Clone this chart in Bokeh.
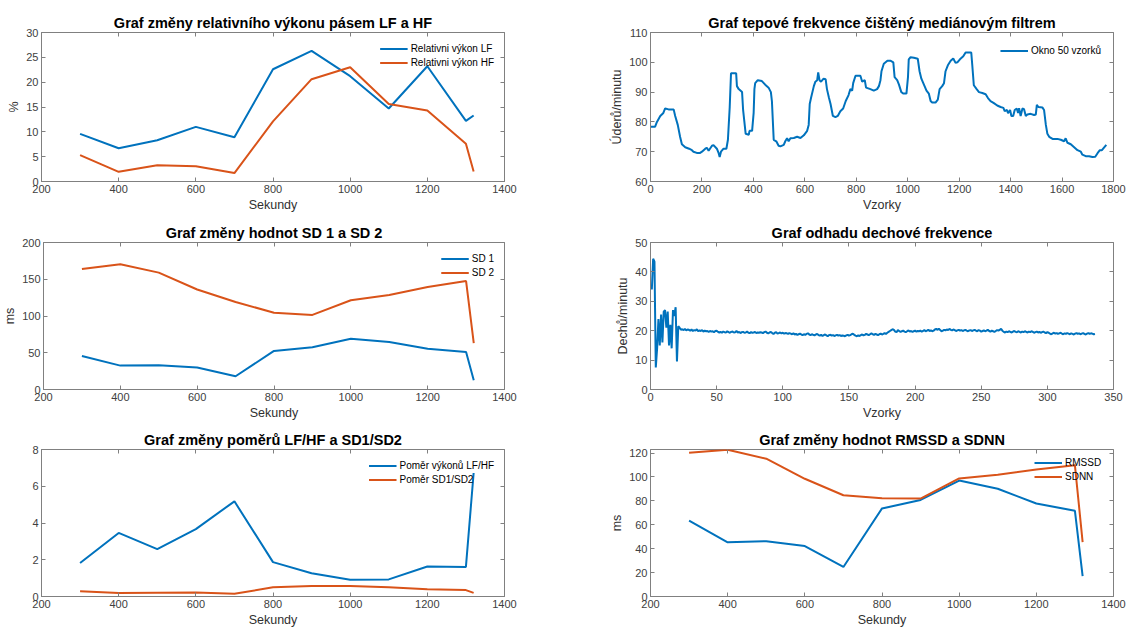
from bokeh.plotting import figure
from bokeh.layouts import column, row
from bokeh.models import LinearAxis, FixedTicker, Range1d
from bokeh.embed import file_html
from bokeh.resources import INLINE

BLUE = "#0072BD"
ORANGE = "#D95319"
FONT = "Liberation Sans"
AXC = "#808080"
TICKC = "#404040"
LABC = "#303030"

# ---------------- data ----------------
seconds = [300, 400, 500, 600, 700, 800, 900, 1000, 1100, 1200, 1300, 1320]

rel_lf = [9.6, 6.7, 8.3, 11.0, 8.9, 22.6, 26.3, 21.2, 14.7, 23.2, 12.2, 13.3]
rel_hf = [5.3, 1.95, 3.25, 3.05, 1.7, 12.1, 20.6, 23.0, 15.6, 14.3, 7.6, 2.0]

sd1 = [45.5, 32.5, 33.0, 30.0, 18.0, 52.5, 57.5, 69.0, 64.5, 55.5, 51.0, 12.5]
sd2 = [164.0, 170.5, 159.0, 136.0, 119.0, 104.5, 101.5, 121.5, 128.5, 139.5, 147.5, 63.0]

ratio_lfhf = [1.82, 3.46, 2.58, 3.67, 5.18, 1.87, 1.27, 0.91, 0.93, 1.63, 1.61, 6.72]
ratio_sd = [0.28, 0.19, 0.21, 0.22, 0.15, 0.50, 0.57, 0.57, 0.50, 0.40, 0.35, 0.20]

rmssd = [63.5, 45.3, 46.3, 42.2, 24.7, 73.7, 80.8, 97.0, 90.2, 77.8, 71.7, 17.0]
sdnn = [120.3, 122.8, 115.3, 98.5, 84.7, 82.2, 81.9, 98.8, 101.8, 106.2, 109.8, 45.5]

hr_sample = [1, 18, 25, 38, 50, 57, 70, 90, 96, 106, 115, 122, 135, 150, 161, 167, 180, 193, 200,
             213, 219, 226, 239, 245, 258, 265, 269, 274, 284, 295, 301, 308, 313, 333, 336, 343,
             356, 360, 365, 370, 382, 385, 395, 401, 404, 407, 417, 433, 446, 459, 468, 472, 479,
             489, 498, 505, 518, 524, 531, 537, 544, 557, 570, 583, 596, 609, 615, 619, 624, 635,
             641, 648, 652, 657, 663, 673, 681, 686, 694, 700, 709, 719, 728, 738, 749, 759, 770,
             777, 784, 788, 797, 816, 823, 833, 838, 855, 868, 881, 888, 894, 898, 907, 921, 934,
             944, 949, 959, 966, 975, 982, 995, 1001, 1004, 1011, 1024, 1039, 1046, 1053, 1063,
             1073, 1082, 1089, 1095, 1108, 1117, 1124, 1134, 1141, 1147, 1156, 1167, 1177, 1186,
             1193, 1203, 1216, 1225, 1247, 1251, 1257, 1268, 1277, 1290, 1303, 1312, 1322, 1335,
             1348, 1361, 1372, 1377, 1386, 1390, 1398, 1403, 1410, 1416, 1424, 1429, 1433, 1439,
             1446, 1452, 1459, 1465, 1478, 1491, 1498, 1502, 1508, 1524, 1530, 1537, 1543, 1550,
             1563, 1582, 1595, 1608, 1614, 1621, 1634, 1647, 1660, 1673, 1679, 1692, 1705, 1718,
             1729, 1738, 1747, 1755, 1772]
hr_bpm = [78.4, 78.4, 80, 82, 83, 84.5, 84.2, 84.2, 82, 79, 75, 72.5, 71.5, 71, 70.5, 70, 69.6, 69.6, 70,
          71, 71.3, 70.3, 72, 72.2, 71, 69.5, 68.2, 70, 71, 71, 74, 85, 96.3, 96.3, 92, 91,
          90, 84, 80, 76, 75.7, 77, 77, 83, 91, 93, 94, 93.7, 92.5, 91.5, 90, 87, 74,
          73.5, 72, 71.8, 72.3, 73.5, 74.5, 73.5, 74.5, 74.6, 75, 74.6, 75.5, 77, 79, 86, 88, 92,
          93.5, 94, 96.6, 94, 93.5, 94.5, 94.3, 91, 88, 86, 82, 81.6, 82, 83.6, 84.5, 87, 89,
          91, 90.5, 93, 95.5, 95.5, 93.5, 94, 91.5, 91, 90.5, 91, 92, 94, 97, 99.5, 100.5, 100.5,
          100, 95, 94, 92.5, 90, 89.5, 89.5, 95, 101, 101.7, 101.5, 101.2, 97, 94.5, 92.5,
          90.5, 89.5, 87, 86.5, 86.5, 87.5, 91, 92, 93, 97, 99, 100.5, 101.3, 99.8,
          100, 101, 102, 103.3, 103.3, 99, 92.3, 91, 90, 89.7, 89.3, 88, 87, 86.3,
          85.5, 85, 84.7, 83.6, 84, 82.9, 84, 82, 82, 84, 84.5, 83, 84.6, 82,
          84.5, 84.3, 82, 82.5, 82.7, 82.3, 82.5, 85.7, 85, 84.8, 84, 79, 76, 75,
          74.3, 74.3, 74, 73.5, 74.5, 73, 72.5, 71.5, 70.5, 70, 69, 68.5, 68.5, 68.2,
          68.3, 69.5, 70.5, 70.5, 72.3]

resp_rate = [
    34, 44.5, 43.5, 7.5, 14, 24, 15, 25.5, 16, 26.5, 27, 21, 26.5, 15, 22, 14, 27, 25, 28, 9.5, 21.5, 21, 20.3,
    20.5, 20.2, 20.6, 20.1, 20.4, 20.3, 20.0, 20.4, 19.9, 20.2, 20.0, 20.5, 19.8, 20.1, 19.9, 20.2, 19.7, 20.0, 19.8, 19.9,
    19.6, 19.9, 19.7, 19.8, 19.5, 19.9, 20.0, 19.6, 19.4, 19.6, 19.3, 19.7, 19.5, 19.4, 19.8, 19.5, 19.3, 19.6, 19.7, 19.4,
    19.5, 19.9, 19.4, 19.6, 19.2, 19.5, 19.6, 19.3, 19.4, 19.7, 19.3, 19.2, 19.5, 19.3, 19.4, 19.6, 19.2, 19.4, 19.3, 19.5,
    19.4, 19.2, 19.5, 19.7, 19.3, 19.1, 19.4, 19.6, 19.2, 18.9, 19.3, 19.5, 19.0, 19.2, 19.4, 19.1, 19.3, 19.0, 19.2, 19.1,
    18.9, 19.2, 19.0, 18.8, 19.1, 18.7, 18.9, 18.6, 18.8, 19.0, 18.7, 18.5, 18.8, 18.6, 18.9, 19.1, 18.7, 18.5, 18.8, 18.6,
    18.4, 18.7, 18.9, 18.5, 18.3, 18.6, 18.2, 18.5, 18.7, 18.4, 18.1, 18.5, 18.6, 18.3, 18.5, 18.2, 18.4, 18.6, 18.3, 18.5,
    18.2, 18.4, 18.3, 18.1, 18.4, 18.6, 18.3, 18.5, 18.8, 19.0, 18.6, 18.3, 18.1, 18.4, 18.2, 18.5, 18.7, 18.4, 18.6, 18.9,
    18.7, 18.5, 18.8, 19.1, 18.8, 18.6, 18.9, 18.7, 18.5, 18.8, 19.0, 18.7, 18.9, 19.2, 18.9, 19.3, 19.6, 19.9, 20.2, 20.5,
    20.3, 19.7, 19.5, 20.2, 19.9, 19.6, 19.8, 20.0, 19.7, 19.5, 19.8, 20.1, 19.7, 19.9, 19.6, 19.8, 20.0, 19.7, 19.9, 19.8,
    20.0, 19.7, 19.9, 20.2, 19.8, 20.0, 20.3, 19.9, 20.1, 19.8, 20.0, 20.4, 20.6, 20.3, 20.7, 20.2, 19.8, 20.0, 20.3, 20.1,
    20.4, 20.2, 20.6, 20.3, 20.1, 20.4, 20.2, 19.9, 20.1, 20.3, 20.0, 20.2, 19.9, 20.1, 20.3, 20.0, 19.8, 20.1, 20.2, 19.9,
    20.1, 20.3, 20.0, 19.8, 20.2, 20.0, 19.7, 19.9, 20.1, 19.8, 20.0, 20.3, 19.9, 19.7, 20.0, 19.8, 19.6, 19.9, 20.2, 20.0,
    20.3, 20.6, 20.0, 19.6, 19.4, 19.7, 19.5, 19.8, 19.6, 19.4, 19.7, 19.9, 19.6, 19.5, 19.8, 19.6, 19.4, 19.7, 19.5, 19.8,
    19.6, 19.4, 19.7, 19.5, 19.8, 19.6, 19.3, 19.5, 19.7, 19.4, 19.6, 19.3, 19.5, 19.7, 19.4, 19.2, 19.5, 19.3, 19.0, 18.8,
    19.1, 19.3, 19.0, 19.2, 18.9, 19.1, 19.3, 19.0, 18.8, 19.1, 18.9, 19.2, 19.0, 18.8, 19.1, 18.9, 18.7, 19.0, 19.2, 18.9,
    19.1, 18.8, 19.0, 19.2, 18.9, 18.7, 19.0, 19.2, 18.9, 19.1, 19.0, 18.8, 18.9,
]
resp_sample = list(range(1, len(resp_rate) + 1))

sec_ticks = [200, 400, 600, 800, 1000, 1200, 1400]


def make_fig(w, h, borders, xr, yr, xticks, yticks, title, xlabel, ylabel):
    top, right, bottom, left = borders
    p = figure(width=w, height=h, output_backend="svg", toolbar_location=None,
               x_range=Range1d(*xr), y_range=Range1d(*yr),
               min_border_top=top, min_border_right=right,
               min_border_bottom=bottom, min_border_left=left)
    p.title.text = title
    p.title.text_font = FONT
    p.title.text_font_size = "14.5px"
    p.title.text_font_style = "bold"
    p.title.text_color = "black"
    p.title.align = "center"
    p.title.standoff = 3
    p.xgrid.visible = False
    p.ygrid.visible = False
    p.outline_line_color = AXC
    p.outline_line_alpha = 1
    p.background_fill_color = "white"
    p.border_fill_color = "white"
    for ax, ticks, lab in ((p.xaxis[0], xticks, xlabel), (p.yaxis[0], yticks, ylabel)):
        ax.ticker = FixedTicker(ticks=ticks)
        ax.axis_line_color = AXC
        ax.major_tick_line_color = AXC
        ax.major_tick_in = 4
        ax.major_tick_out = 0
        ax.minor_tick_line_color = None
        ax.major_label_text_font = FONT
        ax.major_label_text_font_size = "11px"
        ax.major_label_text_color = TICKC
        ax.major_label_standoff = 3
        if lab:
            ax.axis_label = lab
            ax.axis_label_text_font = FONT
            ax.axis_label_text_font_size = "12.5px"
            ax.axis_label_text_font_style = "normal"
            ax.axis_label_text_color = LABC
            ax.axis_label_standoff = 2
    # mirrored tick marks on the top and right edges of the box (no labels)
    for loc, ticks in (("right", yticks), ("above", xticks)):
        ax = LinearAxis(ticker=FixedTicker(ticks=ticks), major_label_text_font_size="2px",
                        major_label_text_color=None,
                        major_tick_in=4, major_tick_out=0, major_label_standoff=0,
                        axis_line_color=None, minor_tick_line_color=None,
                        major_tick_line_color=AXC)
        p.add_layout(ax, loc)
    return p


def style_legend(p, margin=10, location="top_right"):
    lg = p.legend[0]
    lg.location = location
    lg.border_line_color = None
    lg.background_fill_alpha = 0
    lg.label_text_font = FONT
    lg.label_text_font_size = "10px"
    lg.label_text_color = "black"
    lg.glyph_width = 28
    lg.glyph_height = 13
    lg.label_height = 13
    lg.label_standoff = 3
    lg.spacing = 1
    lg.padding = 0
    lg.margin = margin


LW = 2
LEFT_W, RIGHT_W = 560, 566

# row 1
p1 = make_fig(LEFT_W, 214, (32, 56, 33, 41), (200, 1400), (0, 30), sec_ticks,
              [0, 5, 10, 15, 20, 25, 30], "Graf změny relativního výkonu pásem LF a HF", "Sekundy", "%")
p1.line(seconds, rel_lf, color=BLUE, line_width=LW, legend_label="Relativni výkon LF")
p1.line(seconds, rel_hf, color=ORANGE, line_width=LW, legend_label="Relativni výkon HF")
style_legend(p1)

p2 = make_fig(RIGHT_W, 214, (32, 13, 33, 90), (0, 1800), (60, 110),
              [0, 200, 400, 600, 800, 1000, 1200, 1400, 1600, 1800], [60, 70, 80, 90, 100, 110],
              "Graf tepové frekvence čištěný mediánovým filtrem", "Vzorky", "Úderů/minutu")
p2.line(hr_sample, hr_bpm, color=BLUE, line_width=LW, legend_label="Okno 50 vzorků")
style_legend(p2, 12)

# row 2
p3 = make_fig(LEFT_W, 208, (28, 56, 33, 41), (200, 1400), (0, 200), sec_ticks,
              [0, 50, 100, 150, 200], "Graf změny hodnot SD 1 a SD 2", "Sekundy", "ms")
p3.line(seconds, sd1, color=BLUE, line_width=LW, legend_label="SD 1")
p3.line(seconds, sd2, color=ORANGE, line_width=LW, legend_label="SD 2")
style_legend(p3)

p4 = make_fig(RIGHT_W, 208, (28, 13, 33, 90), (0, 350), (0, 50),
              [0, 50, 100, 150, 200, 250, 300, 350], [0, 10, 20, 30, 40, 50],
              "Graf odhadu dechové frekvence", "Vzorky", "Dechů/minutu")
p4.line(resp_sample, resp_rate, color=BLUE, line_width=LW)

# row 3
p5 = make_fig(LEFT_W, 207, (27, 56, 32, 41), (200, 1400), (0, 8), sec_ticks,
              [0, 2, 4, 6, 8], "Graf změny poměrů LF/HF a SD1/SD2", "Sekundy", None)
p5.line(seconds, ratio_lfhf, color=BLUE, line_width=LW, legend_label="Poměr výkonů LF/HF")
p5.line(seconds, ratio_sd, color=ORANGE, line_width=LW, legend_label="Poměr SD1/SD2")
style_legend(p5)

p6 = make_fig(RIGHT_W, 207, (27, 13, 32, 90), (200, 1400), (0, 123), sec_ticks,
              [0, 20, 40, 60, 80, 100, 120], "Graf změny hodnot RMSSD a SDNN", "Sekundy", "ms")
p6.line(seconds, rmssd, color=BLUE, line_width=LW, legend_label="RMSSD")
p6.line(seconds, sdnn, color=ORANGE, line_width=LW, legend_label="SDNN")
style_legend(p6, 0, (384, 113))

layout = column(row(p1, p2), row(p3, p4), row(p5, p6))

open("out.html", "w").write(file_html(layout, INLINE))
